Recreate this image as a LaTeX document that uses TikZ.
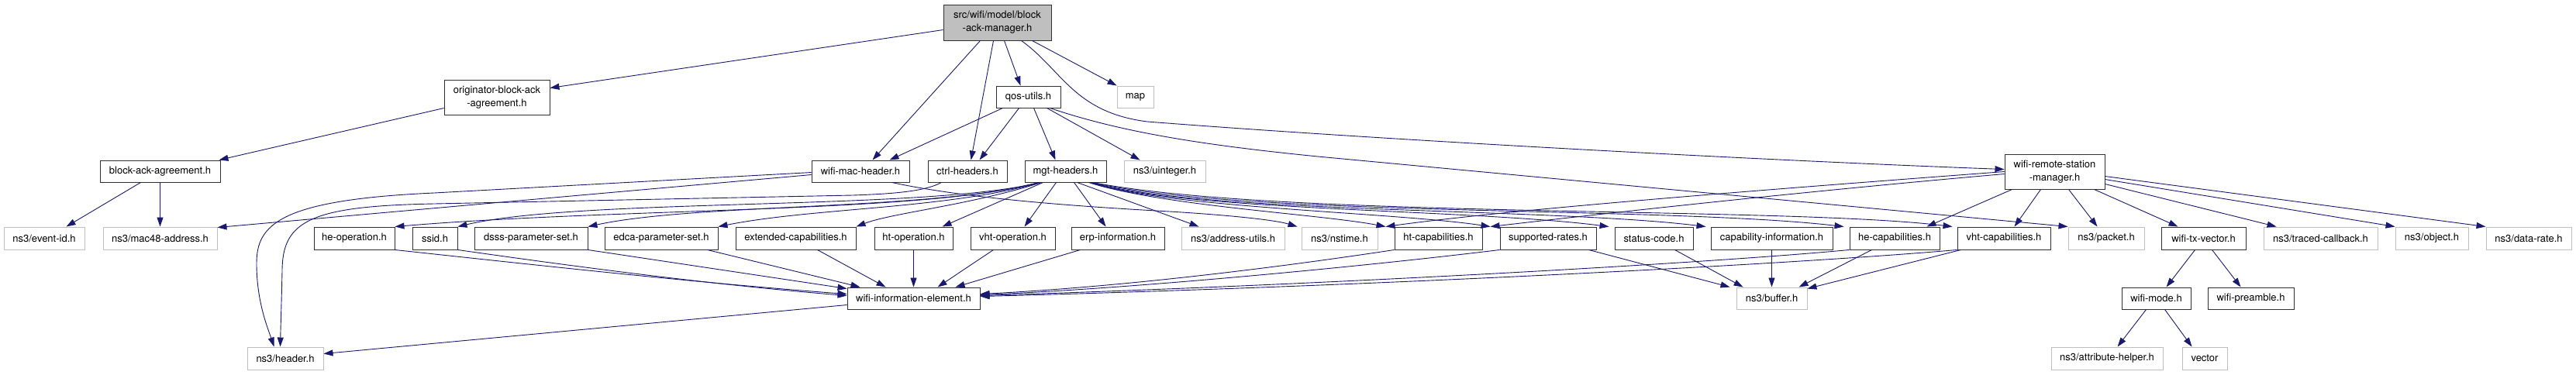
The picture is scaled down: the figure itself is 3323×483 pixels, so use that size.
\documentclass[tikz,border=0pt]{standalone}
\usepackage{fontspec}
\newfontfamily\hfont{TeX Gyre Heros}
\usetikzlibrary{arrows.meta}
\definecolor{edgeblue}{HTML}{191970}
\definecolor{gborder}{HTML}{BFBFBF}
\definecolor{rootfill}{HTML}{BFBFBF}
\definecolor{bborder}{HTML}{303030}
\tikzset{
  nbox/.style={draw=bborder, line width=0.95pt, fill=white, inner sep=0pt, align=center,
    font=\hfont\fontsize{13}{17}\selectfont, text=black},
  gbox/.style={nbox, draw=gborder},
  rbox/.style={nbox, fill=rootfill},
  e/.style={draw=edgeblue, line width=0.9pt, -{Triangle[length=12pt,width=8pt]}},
}
\begin{document}
\begin{tikzpicture}[x=1pt,y=-1pt]
\fill[white] (0,0) rectangle (3323,483);
\useasboundingbox (0,0) rectangle (3323,483);
% row 0
\node[rbox, minimum width=139pt, minimum height=46pt] (root) at (1286.5,29) {src/wifi/model/block\\-ack-manager.h};
% row 1
\node[nbox, minimum width=83pt, minimum height=28pt] (qos) at (1326.5,125) {qos-utils.h};
\node[gbox, minimum width=47pt, minimum height=28pt] (map) at (1464.5,125) {map};
\node[nbox, minimum width=136pt, minimum height=45pt] (orig) at (641,125.5) {originator-block-ack\\-agreement.h};
% row 2
\node[nbox, minimum width=155pt, minimum height=28pt] (baa) at (206.5,221) {block-ack-agreement.h};
\node[nbox, minimum width=126pt, minimum height=28pt] (wmh) at (1110,221) {wifi-mac-header.h};
\node[nbox, minimum width=102pt, minimum height=28pt] (ctrl) at (1248,221) {ctrl-headers.h};
\node[nbox, minimum width=105pt, minimum height=28pt] (mgt) at (1374.5,221) {mgt-headers.h};
\node[gbox, minimum width=105pt, minimum height=28pt] (uint) at (1502.5,221) {ns3/uinteger.h};
\node[nbox, minimum width=129pt, minimum height=45pt] (wrsm) at (2650.5,221.5) {wifi-remote-station\\-manager.h};
% row 3
\node[gbox, minimum width=104pt, minimum height=29pt] (evid) at (57,307.5) {ns3/event-id.h};
\node[gbox, minimum width=147pt, minimum height=29pt] (mac48) at (206.5,307.5) {ns3/mac48-address.h};
\node[nbox, minimum width=104pt, minimum height=29pt] (heop) at (457,307.5) {he-operation.h};
\node[nbox, minimum width=58pt, minimum height=29pt] (ssid) at (561,307.5) {ssid.h};
\node[nbox, minimum width=146pt, minimum height=29pt] (dsss) at (685,307.5) {dsss-parameter-set.h};
\node[nbox, minimum width=146pt, minimum height=29pt] (edca) at (853,307.5) {edca-parameter-set.h};
\node[nbox, minimum width=155pt, minimum height=29pt] (ext) at (1026.5,307.5) {extended-capabilities.h};
\node[nbox, minimum width=101pt, minimum height=29pt] (htop) at (1178.5,307.5) {ht-operation.h};
\node[nbox, minimum width=109pt, minimum height=29pt] (vhtop) at (1306.5,307.5) {vht-operation.h};
\node[nbox, minimum width=120pt, minimum height=29pt] (erp) at (1442,307.5) {erp-information.h};
\node[gbox, minimum width=133pt, minimum height=29pt] (addr) at (1590.5,307.5) {ns3/address-utils.h};
\node[gbox, minimum width=98pt, minimum height=29pt] (nst) at (1728,307.5) {ns3/nstime.h};
\node[nbox, minimum width=113pt, minimum height=29pt] (htcap) at (1855.5,307.5) {ht-capabilities.h};
\node[nbox, minimum width=124pt, minimum height=29pt] (supp) at (1997,307.5) {supported-rates.h};
\node[nbox, minimum width=101pt, minimum height=29pt] (stat) at (2133.5,307.5) {status-code.h};
\node[nbox, minimum width=157pt, minimum height=29pt] (cap) at (2285.5,307.5) {capability-information.h};
\node[nbox, minimum width=116pt, minimum height=29pt] (hecap) at (2444,307.5) {he-capabilities.h};
\node[nbox, minimum width=120pt, minimum height=29pt] (vhtcap) at (2585,307.5) {vht-capabilities.h};
\node[gbox, minimum width=98pt, minimum height=29pt] (pkt) at (2717,307.5) {ns3/packet.h};
\node[nbox, minimum width=109pt, minimum height=29pt] (txv) at (2842.5,307.5) {wifi-tx-vector.h};
\node[gbox, minimum width=147pt, minimum height=29pt] (trc) at (2993.5,307.5) {ns3/traced-callback.h};
\node[gbox, minimum width=94pt, minimum height=29pt] (obj) at (3137,307.5) {ns3/object.h};
\node[gbox, minimum width=110pt, minimum height=29pt] (drate) at (3262,307.5) {ns3/data-rate.h};
% row 4
\node[nbox, minimum width=171pt, minimum height=28pt] (wie) at (1178.5,385) {wifi-information-element.h};
\node[gbox, minimum width=91pt, minimum height=28pt] (buf) at (2285.5,385) {ns3/buffer.h};
\node[nbox, minimum width=89pt, minimum height=28pt] (wmode) at (2781.5,385) {wifi-mode.h};
\node[nbox, minimum width=111pt, minimum height=28pt] (wpre) at (2903.5,385) {wifi-preamble.h};
% row 5
\node[gbox, minimum width=98pt, minimum height=29pt] (hdr) at (368,462.5) {ns3/header.h};
\node[gbox, minimum width=144pt, minimum height=29pt] (attr) at (2718,462.5) {ns3/attribute-helper.h};
\node[gbox, minimum width=58pt, minimum height=29pt] (vec) at (2844,462.5) {vector};

% ---- edges from root
\draw[e] ([yshift=-33pt]root.north west) -- ([yshift=-11pt]orig.north east);
\draw[e] ([xshift=48pt]root.south west) -- ([xshift=79pt]wmh.north west);
\draw[e] ([xshift=65pt]root.south west) -- ([xshift=56pt]ctrl.north west);
\draw[e] ([xshift=79pt]root.south west) -- ([xshift=32pt]qos.north west);
\draw[e] ([xshift=115pt]root.south west) -- (map.north west);
\draw[e] ([xshift=101pt]root.south west) .. controls (1370,90) and (1385,145) .. (1480,157) .. controls (1800,182) and (2300,208) .. ([yshift=-20pt]wrsm.north west);
% originator / block-ack-agreement
\draw[e] ([yshift=-37pt]orig.north west) -- ([xshift=-2pt]baa.north east);
\draw[e] ([xshift=53pt]baa.south west) -- ([xshift=81pt]evid.north west);
\draw[e] (baa.south) -- (mac48.north);
% qos-utils
\draw[e] ([xshift=9pt]qos.south west) -- ([xshift=101pt]wmh.north west);
\draw[e] ([xshift=30pt]qos.south west) -- ([xshift=67pt]ctrl.north west);
\draw[e] ([xshift=49pt]qos.south west) -- ([xshift=40pt]mgt.north west);
\draw[e] ([xshift=66pt]qos.south west) -- ([xshift=21pt]uint.north west);
\draw[e] ([xshift=70pt]qos.south west) .. controls (1450,172) and (1560,188) .. (1700,202) -- (pkt.north west);
% wifi-mac-header / ctrl-headers
\draw[e] ([yshift=-16pt]wmh.north west) -- (560,249) .. controls (360,258) and (331,290) .. (331,340) .. controls (331,390) and (346,425) .. ([xshift=35pt]hdr.north west);
\draw[e] ([xshift=18pt]ctrl.south west) .. controls (1195,246) and (1160,250) .. (1100,252) -- (560,263) .. controls (400,266) and (364,285) .. (364,350) .. controls (363,395) and (362,425) .. ([xshift=43pt]hdr.north west);
\draw[e] ([yshift=-19pt]wmh.north west) -- ([yshift=-1pt]mac48.north east);
\draw[e] ([xshift=104pt]wmh.south west) .. controls (1250,257) and (1400,267) .. (1509,273) .. controls (1590,278) and (1645,284) .. ([xshift=-5pt]nst.north west);
\draw[e] ([yshift=-23pt]wie.north west) -- ([yshift=-9pt]hdr.north east);
% mgt-headers, left bundle
\draw[e] ([xshift=18pt]mgt.south west) .. controls (1200,275) and (800,268) .. (heop.north east);
\draw[e] ([xshift=19pt]mgt.south west) .. controls (1200,272) and (750,255) .. (ssid.north east);
\draw[e] ([xshift=20pt]mgt.south west) .. controls (1200,272) and (900,262) .. (dsss.north east);
\draw[e] ([xshift=21pt]mgt.south west) .. controls (1220,270) and (1050,268) .. (edca.north east);
\draw[e] ([xshift=22pt]mgt.south west) .. controls (1250,265) and (1150,275) .. (ext.north east);
\draw[e] ([xshift=24pt]mgt.south west) -- ([xshift=88pt]htop.north west);
\draw[e] ([xshift=41pt]mgt.south west) -- ([xshift=70pt]vhtop.north west);
\draw[e] ([xshift=64pt]mgt.south west) -- ([xshift=45pt]erp.north west);
\draw[e] ([xshift=68pt]mgt.south west) -- ([xshift=23pt]addr.north west);
% mgt-headers, right bundle
\draw[e] ([xshift=83pt]mgt.south west) .. controls (1500,266) and (1700,276) .. ([xshift=-11pt]htcap.north west);
\draw[e] ([xshift=84pt]mgt.south west) .. controls (1500,268) and (1800,274) .. ([xshift=-12pt]supp.north west);
\draw[e] ([xshift=85pt]mgt.south west) .. controls (1520,272) and (1900,270) .. ([xshift=-7pt]stat.north west);
\draw[e] ([xshift=86pt]mgt.south west) .. controls (1550,276) and (2000,268) .. ([xshift=-6pt]cap.north west);
\draw[e] ([xshift=87pt]mgt.south west) .. controls (1600,280) and (2150,266) .. ([xshift=-7pt]hecap.north west);
\draw[e] ([xshift=88pt]mgt.south west) .. controls (1650,282) and (2300,266) .. ([xshift=-6pt]vhtcap.north west);
% wifi-remote-station-manager
\draw[e] ([yshift=-23pt]wrsm.north west) .. controls (2300,243) and (1950,270) .. ([xshift=-11pt]htcap.north west);
\draw[e] ([yshift=-26pt]wrsm.north west) .. controls (2350,245) and (2100,272) .. ([xshift=-12pt]supp.north west);
\draw[e] ([xshift=10pt]wrsm.south west) -- ([xshift=100pt]hecap.north west);
\draw[e] ([xshift=47pt]wrsm.south west) -- ([xshift=74pt]vhtcap.north west);
\draw[e] ([xshift=83pt]wrsm.south west) -- ([xshift=38pt]pkt.north west);
\draw[e] ([xshift=116pt]wrsm.south west) -- ([xshift=22pt]txv.north west);
\draw[e] ([yshift=-39pt]wrsm.north east) -- ([xshift=17pt]trc.north west);
\draw[e] ([yshift=-33pt]wrsm.north east) -- (obj.north west);
\draw[e] ([yshift=-29pt]wrsm.north east) -- (drate.north west);
% tx vector / mode
\draw[e] ([xshift=44pt]txv.south west) -- ([xshift=58pt]wmode.north west);
\draw[e] ([xshift=66pt]txv.south west) -- ([xshift=43pt]wpre.north west);
\draw[e] ([xshift=32pt]wmode.south west) -- ([xshift=86pt]attr.north west);
\draw[e] ([xshift=56pt]wmode.south west) -- ([xshift=13pt]vec.north west);
% into wifi-information-element
\draw[e] (heop.south east) .. controls (700,343) and (900,365) .. ([yshift=-9pt]wie.north west);
\draw[e] (ssid.south east) .. controls (700,338) and (900,366) .. ([yshift=-11pt]wie.north west);
\draw[e] (dsss.south east) -- ([yshift=-2pt]wie.north west);
\draw[e] ([xshift=133pt]edca.south west) -- ([xshift=17pt]wie.north west);
\draw[e] ([xshift=106pt]ext.south west) -- ([xshift=50pt]wie.north west);
\draw[e] (htop.south) -- (wie.north);
\draw[e] ([xshift=30pt]vhtop.south west) -- ([xshift=117pt]wie.north west);
\draw[e] ([xshift=12pt]erp.south west) -- ([xshift=140pt]wie.north west);
\draw[e] (htcap.south west) .. controls (1650,345) and (1450,370) .. ([yshift=-9pt]wie.north east);
\draw[e] (supp.south west) .. controls (1750,345) and (1450,373) .. ([yshift=-10pt]wie.north east);
\draw[e] (hecap.south west) .. controls (2200,340) and (1700,368) .. ([yshift=-11pt]wie.north east);
\draw[e] (vhtcap.south west) .. controls (2300,342) and (1750,370) .. ([yshift=-12pt]wie.north east);
% into buffer
\draw[e] ([xshift=115pt]supp.south west) -- ([xshift=-8pt]buf.north west);
\draw[e] ([xshift=78pt]stat.south west) -- ([xshift=9pt]buf.north west);
\draw[e] (cap.south) -- (buf.north);
\draw[e] ([xshift=29pt]hecap.south west) -- ([xshift=81pt]buf.north west);
\draw[e] ([xshift=5pt]vhtcap.south west) -- ([yshift=-2pt]buf.north east);
\end{tikzpicture}
\end{document}
